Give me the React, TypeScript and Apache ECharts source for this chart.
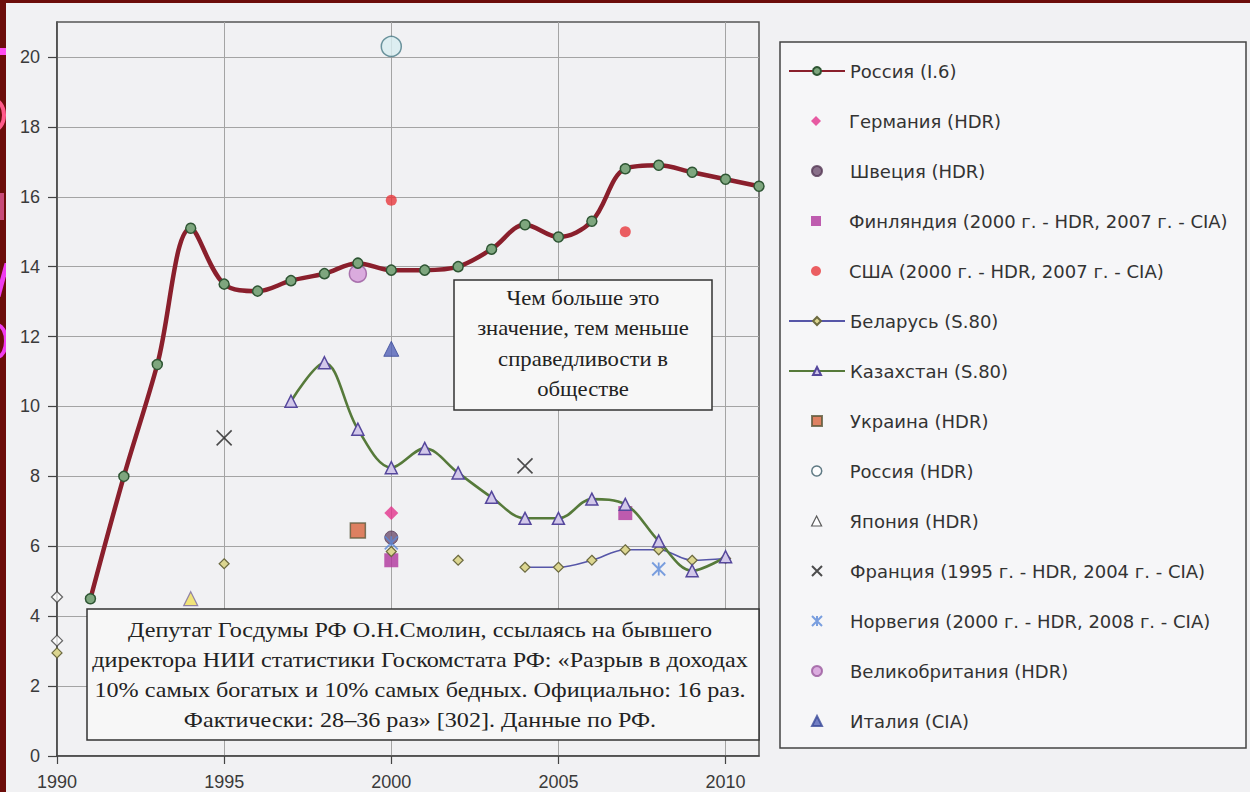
import React, { useEffect, useRef } from "react";
import * as echarts from "echarts";

// ---------- data ----------
const xTickYears = [1990, 1995, 2000, 2005, 2010];
const yTickValues = [0, 2, 4, 6, 8, 10, 12, 14, 16, 18, 20];

const russiaI6Years = [1991, 1992, 1993, 1994, 1995, 1996, 1997, 1998, 1999, 2000, 2001, 2002, 2003, 2004, 2005, 2006, 2007, 2008, 2009, 2010, 2011];
const russiaI6Values = [4.5, 8.0, 11.2, 15.1, 13.5, 13.3, 13.6, 13.8, 14.1, 13.9, 13.9, 14.0, 14.5, 15.2, 14.85, 15.3, 16.8, 16.9, 16.7, 16.5, 16.3];

const belarusYears = [1990, 1991, 1992, 1993, 1994, 1995, 1996, 1997, 1998, 1999, 2000, 2001, 2002, 2003, 2004, 2005, 2006, 2007, 2008, 2009, 2010];
const belarusValues = [2.95, null, null, null, null, 5.5, null, null, null, null, 5.85, null, 5.6, null, 5.4, 5.4, 5.6, 5.9, 5.9, 5.6, 5.65];

const kazakhYears = [1997, 1998, 1999, 2000, 2001, 2002, 2003, 2004, 2005, 2006, 2007, 2008, 2009, 2010];
const kazakhValues = [10.15, 11.25, 9.35, 8.25, 8.8, 8.1, 7.4, 6.8, 6.8, 7.35, 7.2, 6.15, 5.3, 5.7];

const germanyPts = [[2000, 6.95]];
const swedenPts = [[2000, 6.25]];
const finlandPts = [[2000, 5.6], [2007, 6.95]];
const usaPts = [[2000, 15.9], [2007, 15.0]];
const ukrainePts = [[1999, 6.45]];
const russiaHdrPts = [[2000, 20.3]];
const japanPts = [[1994, 4.5]];
const francePts = [[1995, 9.1], [2004, 8.3]];
const norwayPts = [[2000, 6.1], [2008, 5.35]];
const ukPts = [[1999, 13.8]];
const italyPts = [[2000, 11.65]];
const extra1990Pts = [[1990, 4.55], [1990, 3.3]];

const legendNames = [
  "Россия (I.6)",
  "Германия (HDR)",
  "Швеция (HDR)",
  "Финляндия (2000 г. - HDR, 2007 г. - CIA)",
  "США (2000 г. - HDR, 2007 г. - CIA)",
  "Беларусь (S.80)",
  "Казахстан (S.80)",
  "Украина (HDR)",
  "Россия (HDR)",
  "Япония (HDR)",
  "Франция (1995 г. - HDR, 2004 г. - CIA)",
  "Норвегия (2000 г. - HDR, 2008 г. - CIA)",
  "Великобритания (HDR)",
  "Италия (CIA)",
];
const lineSeriesNames = ["Россия (I.6)", "Беларусь (S.80)", "Казахстан (S.80)"];

const note1 = ["Чем больше это", "значение, тем меньше", "справедливости в", "обществе"];
const note2 = [
  "Депутат Госдумы РФ О.Н.Смолин, ссылаясь на бывшего",
  "директора НИИ статистики Госкомстата РФ: «Разрыв в доходах",
  "10% самых богатых и 10% самых бедных. Официально: 16 раз.",
  "Фактически: 28–36 раз» [302]. Данные по РФ.",
];

const zip = (xs: number[], ys: (number | null)[]) => xs.map((x, i) => [x, ys[i] === null ? "-" : ys[i]]);

const SANS = "'Liberation Sans', Arial, sans-serif";
const LEGEND_FONT = "'DejaVu Sans', 'Liberation Sans', sans-serif";
const SERIF = "'Liberation Serif', 'Times New Roman', serif";
const X_PATH = "path://M0,0L10,10M10,0L0,10";
const STAR_PATH = "path://M0,0L10,10M10,0L0,10M5,0L5,10";

export default function App() {
  const ref = useRef<HTMLDivElement>(null);
  useEffect(() => {
    if (!ref.current) return;
    const chart = echarts.init(ref.current, null, { renderer: "svg" });
    const scatter = (name: string, data: number[][], symbol: string, size: number, itemStyle: any) => ({
      name,
      type: "scatter",
      data,
      symbol,
      symbolSize: size,
      itemStyle,
      z: 3,
    });
    const legends = legendNames.map((name, i) => {
      const isLine = lineSeriesNames.includes(name);
      const item: any =
        name === "Япония (HDR)"
          ? { name, itemStyle: { color: "#ffffff", borderColor: "#333", borderWidth: 1.2 } }
          : name === "Россия (HDR)"
          ? { name, itemStyle: { color: "#ffffff", borderColor: "#3a5a66", borderWidth: 1.5 } }
          : { name };
      return {
        data: [item],
        orient: "vertical",
        left: isLine ? 788 : 811,
        top: 62 + i * 50,
        padding: 0,
        itemWidth: isLine ? 56 : 10,
        itemHeight: 10,
        textStyle: {
          fontFamily: LEGEND_FONT,
          fontSize: 18,
          color: "#333",
          padding: isLine ? [0, 0, 0, 0] : [0, 0, 0, 23],
        },
      };
    });
    chart.setOption({
      animation: false,
      backgroundColor: "transparent",
      grid: {
        left: 57,
        top: 22,
        width: 702,
        height: 734,
        show: true,
        borderColor: "#555",
        borderWidth: 1.5,
        backgroundColor: "transparent",
      },
      xAxis: {
        type: "value",
        min: 1990,
        max: 2011,
        interval: 5,
        axisLine: { show: true, onZero: false, lineStyle: { color: "#444", width: 1.5 } },
        axisTick: { show: true, length: 8, customValues: xTickYears, lineStyle: { color: "#444", width: 1.2 } },
        axisLabel: {
          customValues: xTickYears,
          margin: 17,
          fontFamily: SANS,
          fontSize: 18,
          color: "#3a3a3a",
          formatter: (v: number) => String(v),
        },
        splitLine: { show: true, lineStyle: { color: "#a4a4a4", width: 1 } },
      },
      yAxis: {
        type: "value",
        min: 0,
        max: 21,
        interval: 1,
        axisLine: { show: true, lineStyle: { color: "#444", width: 1.5 } },
        axisTick: { show: true, length: 9, customValues: yTickValues, lineStyle: { color: "#444", width: 1.2 } },
        axisLabel: {
          customValues: yTickValues,
          margin: 17,
          fontFamily: SANS,
          fontSize: 18,
          color: "#3a3a3a",
          formatter: (v: number) => String(v),
        },
        splitLine: { show: true, lineStyle: { color: "#a4a4a4", width: 1 } },
      },
      legend: legends,
      graphic: [
        {
          type: "rect",
          z: 0,
          shape: { x: 780, y: 42, width: 466, height: 706 },
          style: { fill: "#f6f6f8", stroke: "#444", lineWidth: 1.5 },
        },
        {
          type: "group",
          z: 100,
          children: [
            {
              type: "rect",
              z: 100,
              shape: { x: 454, y: 280, width: 258, height: 130 },
              style: { fill: "#f7f7f7", stroke: "#333", lineWidth: 1.5 },
            },
            {
              type: "text",
              z: 101,
              x: 583,
              y: 344,
              scaleX: 1.08,
              style: {
                text: note1.join("\n"),
                font: `21px ${SERIF}`,
                fill: "#222",
                align: "center",
                verticalAlign: "middle",
                lineHeight: 30.5,
              },
            },
            {
              type: "rect",
              z: 100,
              shape: { x: 87, y: 609, width: 672, height: 131 },
              style: { fill: "#f7f7f7", stroke: "#333", lineWidth: 1.5 },
            },
            {
              type: "text",
              z: 101,
              x: 420,
              y: 675,
              scaleX: 1.15,
              style: {
                text: note2.join("\n"),
                font: `21px ${SERIF}`,
                fill: "#222",
                align: "center",
                verticalAlign: "middle",
                lineHeight: 30,
              },
            },
          ],
        },
      ],
      series: [
        {
          name: "Россия (I.6)",
          type: "line",
          data: zip(russiaI6Years, russiaI6Values),
          smooth: 0.35,
          symbol: "circle",
          symbolSize: 10,
          lineStyle: { color: "#8a1f2c", width: 4.5 },
          itemStyle: { color: "#7ea67e", borderColor: "#2e5533", borderWidth: 1.5 },
          z: 4,
        },
        scatter("Германия (HDR)", germanyPts, "diamond", 14, { color: "#e4338c" }),
        scatter("Швеция (HDR)", swedenPts, "circle", 13, { color: "#6e4f6e", borderColor: "#553855", borderWidth: 1 }),
        scatter("Финляндия (2000 г. - HDR, 2007 г. - CIA)", finlandPts, "rect", 14, { color: "#b0369c" }),
        scatter("США (2000 г. - HDR, 2007 г. - CIA)", usaPts, "circle", 11, { color: "#e8383c" }),
        {
          name: "Беларусь (S.80)",
          type: "line",
          data: zip(belarusYears, belarusValues),
          connectNulls: false,
          smooth: 0.35,
          symbol: "diamond",
          symbolSize: 10,
          lineStyle: { color: "#5656a8", width: 1.6 },
          itemStyle: { color: "#dcd690", borderColor: "#6c6a40", borderWidth: 1.2 },
          z: 4,
        },
        {
          name: "Казахстан (S.80)",
          type: "line",
          data: zip(kazakhYears, kazakhValues),
          smooth: 0.35,
          symbol: "triangle",
          symbolSize: 12,
          lineStyle: { color: "#567a3a", width: 2.6 },
          itemStyle: { color: "#d2c8ea", borderColor: "#55479c", borderWidth: 1.5 },
          z: 5,
        },
        scatter("Украина (HDR)", ukrainePts, "rect", 15, { color: "#d8643c", borderColor: "#5c5a3c", borderWidth: 1.5 }),
        scatter("Россия (HDR)", russiaHdrPts, "circle", 20, { color: "#d8eef0", borderColor: "#4a7a86", borderWidth: 1.5 }),
        scatter("Япония (HDR)", japanPts, "triangle", 14, { color: "#f0e05a", borderColor: "#7a6aa0", borderWidth: 1.2 }),
        scatter("Франция (1995 г. - HDR, 2004 г. - CIA)", francePts, X_PATH, 15, { color: "rgba(0,0,0,0)", borderColor: "#222", borderWidth: 1.6 }),
        scatter("Норвегия (2000 г. - HDR, 2008 г. - CIA)", norwayPts, STAR_PATH, 13, { color: "rgba(0,0,0,0)", borderColor: "#5a88d8", borderWidth: 1.8 }),
        scatter("Великобритания (HDR)", ukPts, "circle", 17, { color: "#d49ad8", borderColor: "#9a5a9e", borderWidth: 1.5 }),
        scatter("Италия (CIA)", italyPts, "triangle", 15, { color: "#5262b6", borderColor: "#3a4a98", borderWidth: 1 }),
        scatter("1990", extra1990Pts, "diamond", 11, { color: "#ffffff", borderColor: "#444", borderWidth: 1.3 }),
      ],
    });
    return () => chart.dispose();
  }, []);

  const frag = (style: React.CSSProperties) => <div style={{ position: "absolute", ...style }} />;

  return (
    <div style={{ position: "absolute", left: 0, top: 0, width: 1250, height: 792, background: "#6c0d0a", overflow: "hidden" }}>
      <div style={{ position: "absolute", left: 6, top: 3, right: 0, bottom: 0, background: "#f1f1f3" }} />
      <div style={{ position: "absolute", left: 0, top: 0, width: 6, height: 792, overflow: "hidden" }}>
        {frag({ left: 0, top: 48, width: 6, height: 7, background: "#ff4cf0" })}
        {frag({ left: -22, top: 97, width: 20, height: 28, border: "4px solid #ff5a8a", borderRadius: "50%" })}
        {frag({ left: 0, top: 193, width: 4, height: 27, background: "#c84a78" })}
        {frag({ left: 0, top: 263, width: 5, height: 34, background: "#f03cf0", transform: "skewX(-15deg)" })}
        {frag({ left: -14, top: 323, width: 14, height: 28, border: "4px solid #f03cf0", borderRadius: "50%" })}
      </div>
      <div ref={ref} style={{ position: "absolute", left: 0, top: 0, width: 1250, height: 792 }} />
    </div>
  );
}
